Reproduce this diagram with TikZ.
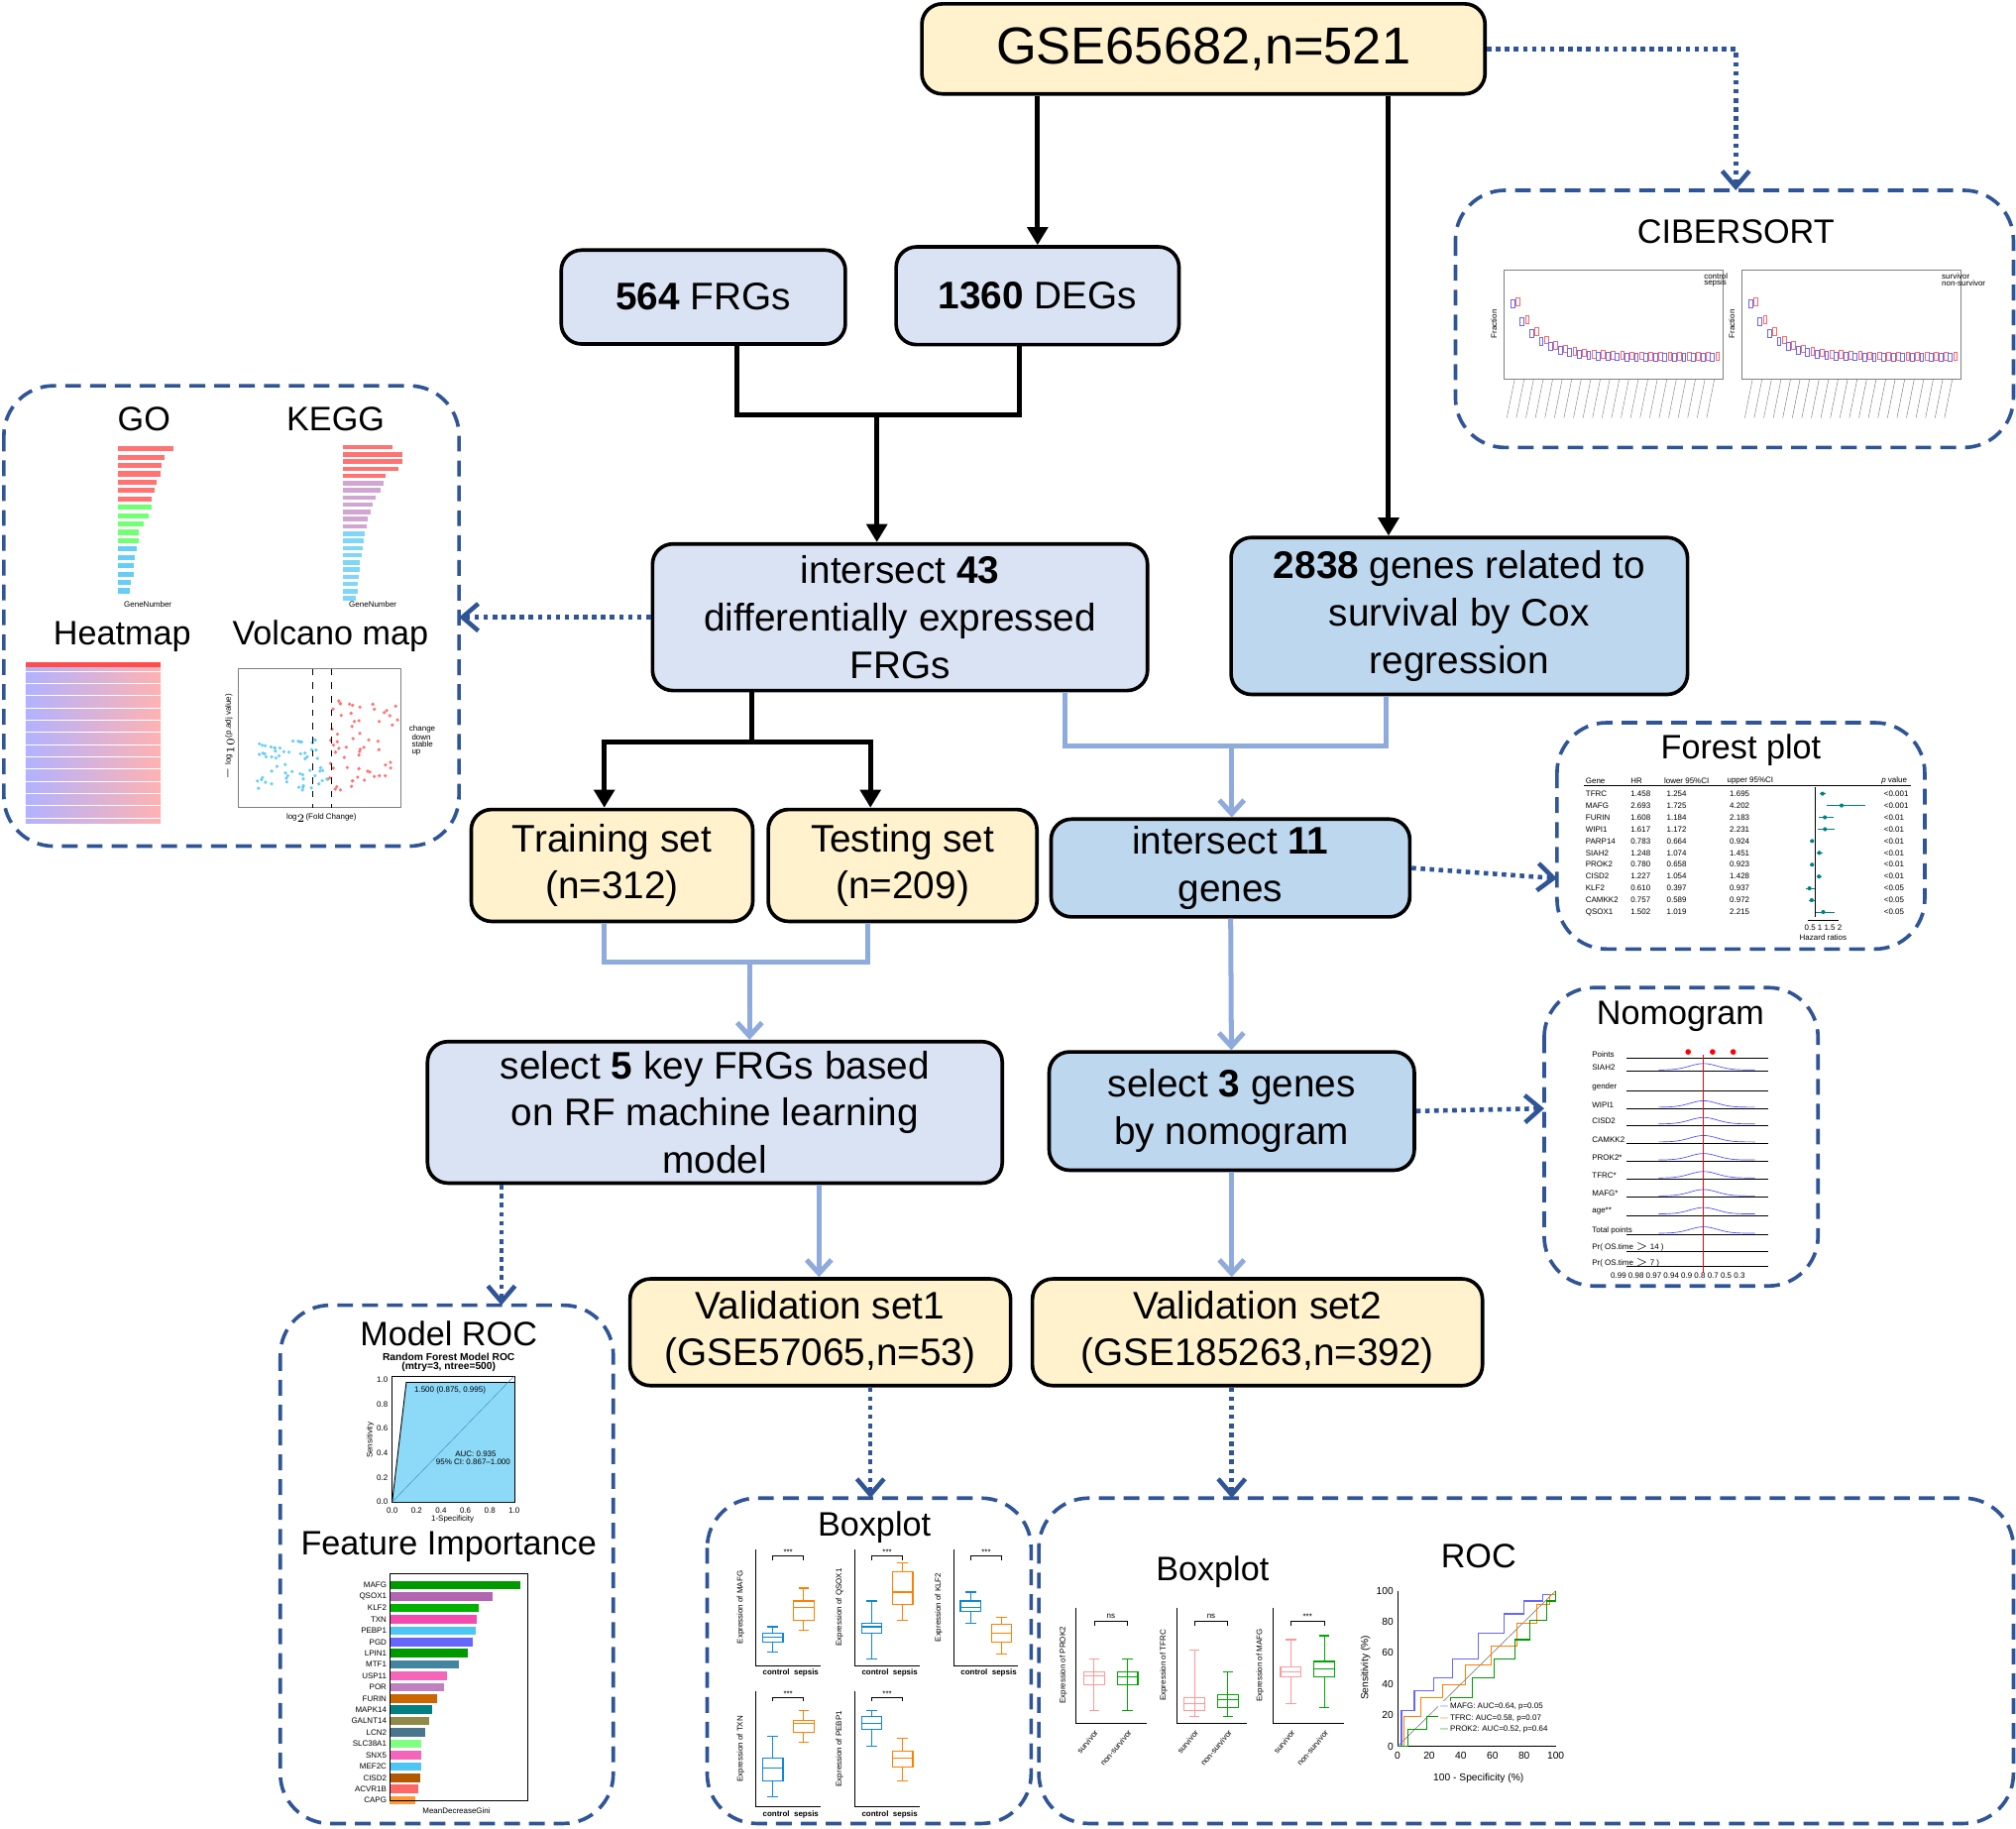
\documentclass[tikz,border=0pt]{standalone}
\usepackage{fontspec}
\setmainfont{Liberation Sans}
\usetikzlibrary{arrows.meta,positioning}
\definecolor{setyellow}{HTML}{FFF2CC}
\definecolor{frgblue}{HTML}{DAE3F3}
\definecolor{coxblue}{HTML}{BDD7EE}
\definecolor{panelblue}{HTML}{2F5597}
\definecolor{lightarrow}{HTML}{8FAADC}
\newcommand{\bx}[7]{% x, ymin, q1, med, q3, ymax, colour
  \draw[#7,line width=0.5pt] (#1,#2) -- (#1,#3) (#1,#5) -- (#1,#6)
    (#1-4,#2) -- (#1+4,#2) (#1-4,#6) -- (#1+4,#6);
  \draw[#7,line width=0.5pt] (#1-8,#3) rectangle (#1+8,#5) (#1-8,#4) -- (#1+8,#4);}
\begin{document}
\begin{tikzpicture}[x=0.02cm,y=-0.02cm,
  box/.style = {draw, line width=1.6pt, rounded corners=9pt, align=center,
    inner sep=2pt, font=\fontsize{17}{21}\selectfont},
  yellowbox/.style = {box, fill=setyellow},
  frgbox/.style = {box, fill=frgblue},
  coxbox/.style = {box, fill=coxblue},
  panel/.style = {draw=panelblue, line width=1.6pt, dash pattern=on 7pt off 4pt,
    rounded corners=22pt},
  dots/.style = {draw=panelblue, line width=2pt, dash pattern=on 2pt off 2pt,
    -{Straight Barb[length=7pt,width=12pt]}},
  flow/.style = {line width=2.2pt, -{Triangle[length=8pt,width=9pt]}},
  blueflow/.style = {draw=lightarrow, line width=2.2pt, -{Straight Barb[length=6pt,width=11pt]}},
  ptitle/.style = {font=\fontsize{15}{18}\selectfont},
  tiny/.style = {font=\fontsize{3.5}{4}\selectfont, inner sep=0pt}
]
\useasboundingbox (0,0) rectangle (1568,1422);

% main boxes
\node[yellowbox, minimum width=438*0.02cm, minimum height=70*0.02cm,
  font=\fontsize{23}{27}\selectfont] (gse) at (936,38) {GSE65682,n=521};
\node[frgbox, minimum width=221*0.02cm, minimum height=73*0.02cm] (frg) at (547,231) {\textbf{564} FRGs};
\node[frgbox, minimum width=220*0.02cm, minimum height=76*0.02cm] (deg) at (807,230) {\textbf{1360} DEGs};
\node[frgbox, minimum width=385*0.02cm, minimum height=114*0.02cm] (int43) at (700,480)
  {intersect \textbf{43}\\differentially expressed\\FRGs};
\node[coxbox, minimum width=355*0.02cm, minimum height=122*0.02cm] (cox) at (1135,479)
  {\textbf{2838} genes related to\\survival by Cox\\regression};
\node[yellowbox, minimum width=219*0.02cm, minimum height=87*0.02cm] (train) at (476,673) {Training set\\(n=312)};
\node[yellowbox, minimum width=209*0.02cm, minimum height=87*0.02cm] (test) at (702,673) {Testing set\\(n=209)};
\node[coxbox, minimum width=279*0.02cm, minimum height=76*0.02cm] (int11) at (957,675) {intersect \textbf{11}\\genes};
\node[frgbox, minimum width=447*0.02cm, minimum height=110*0.02cm] (sel5) at (556,865)
  {select \textbf{5} key FRGs based\\on RF machine learning\\model};
\node[coxbox, minimum width=284*0.02cm, minimum height=92*0.02cm] (sel3) at (958,864) {select \textbf{3} genes\\by nomogram};
\node[yellowbox, minimum width=296*0.02cm, minimum height=83*0.02cm] (val1) at (638,1036) {Validation set1\\(GSE57065,n=53)};
\node[yellowbox, minimum width=350*0.02cm, minimum height=83*0.02cm] (val2) at (978,1036) {Validation set2\\(GSE185263,n=392)};

% panels
\draw[panel] (1132,148) rectangle (1566,348);
\draw[panel] (3,300) rectangle (357,658);
\draw[panel] (1211,562) rectangle (1497,738);
\draw[panel] (1201,768) rectangle (1414,1000);
\draw[panel] (218,1015) rectangle (477,1418);
\draw[panel] (550,1165) rectangle (802,1418);
\draw[panel] (808,1165) rectangle (1566,1418);
\coordinate (ciber) at (1350,148);
\coordinate (gokegg) at (357,480);
\coordinate (forest) at (1211,683);
\coordinate (nomo) at (1201,862);
\coordinate (mroc) at (390,1015);
\coordinate (box1) at (677,1165);
\coordinate (box2) at (958,1165);

% connectors
\draw[flow] (gse.south -| deg) -- (deg);
\draw[flow] (gse.south -| 1080,0) -- (cox.north -| 1080,0);
\draw[dots] (gse.east) -| (ciber);
\draw[line width=2.2pt] (frg.south -| 573,0) |- (682,323) -| (deg.south -| 793,0);
\draw[flow] (682,323) -- (int43.north -| 682,0);
\draw[dots] (int43.west) -- (gokegg);
\draw[line width=2.2pt] (int43.south -| 585,0) -- (585,577);
\draw[flow] (585,577) -| (train.north -| 470,0);
\draw[flow] (585,577) -| (test.north -| 677,0);
\draw[lightarrow, line width=2.2pt] (int43.south -| 828,0) |- (958,580) -| (cox.south -| 1078,0);
\draw[blueflow] (958,580) -- (int11.north -| 958,0);
\draw[dots] (int11.east) -- (forest);
\draw[blueflow] (int11) -- (sel3);
\draw[lightarrow, line width=2.2pt] (train.south -| 470,0) |- (583,748) -| (test.south -| 675,0);
\draw[blueflow] (583,748) -- (sel5.north -| 583,0);
\draw[dots] (sel3.east) -- (nomo);
\draw[dots] (sel5.south -| mroc) -- (mroc);
\draw[blueflow] (sel5.south -| 637,0) -- (val1.north -| 637,0);
\draw[blueflow] (sel3) -- (sel3 |- val2.north);
\draw[dots] (val1.south -| box1) -- (box1);
\draw[dots] (val2.south -| box2) -- (box2);

% CIBERSORT panel
\node[ptitle] (tcib) at (1350,180) {CIBERSORT};
\foreach \ox in {1170,1355} {
  \draw[gray, line width=0.3pt] (\ox,210) rectangle (\ox+170,295);
  \foreach \i in {0,...,21} {
    \pgfmathsetmacro\yy{282-42*exp(-\i/2.5)-4}
    \draw[blue!60, line width=0.4pt] (\ox+5+\i*7.4,\yy-3) rectangle (\ox+8+\i*7.4,\yy+3);
    \draw[red!60, line width=0.4pt] (\ox+9+\i*7.4,\yy-4) rectangle (\ox+12+\i*7.4,\yy+2);
    \draw[gray, line width=0.2pt] (\ox+8+\i*7.4,295) -- (\ox+2+\i*7.4,325);
  }
  \node[tiny, rotate=90] at (\ox-8,252) {Fraction};
}
\node[tiny, anchor=west] at (1325,215) {control};
\node[tiny, anchor=west] at (1325,220) {sepsis};
\node[tiny, anchor=west] at (1510,215) {survivor};
\node[tiny, anchor=west] at (1510,220) {non-survivor};

% GO / KEGG panel
\node[ptitle] (tgo) at (112,326) {GO};
\node[ptitle] (tkegg) at (261,326) {KEGG};
\node[ptitle] (theat) at (95,495) {Heatmap};
\node[ptitle] (tvol) at (257,495) {Volcano map};
\foreach \i/\l in {0/135,1/128,2/126,3/125,4/122,5/120,6/118,7/118,8/116,9/112,10/108,11/108,12/106,13/105,14/104,15/104,16/102,17/101} {
  \pgfmathsetmacro\cc{\i<7 ? "red!55" : (\i<12 ? "green!55" : "cyan!60")}
  \fill[\cc] (92,347+\i*6.5) rectangle (\l,351+\i*6.5);
}
\foreach \i/\l in {0/305,1/313,2/313,3/310,4/300,5/298,6/296,7/292,8/290,9/288,10/286,11/285,12/284,13/283,14/282,15/281,16/280,17/280,18/279,19/278,20/278,21/277} {
  \pgfmathsetmacro\cc{\i<5 ? "red!55" : (\i<12 ? "violet!35" : "cyan!50")}
  \fill[\cc] (267,346+\i*5.6) rectangle (\l,349.5+\i*5.6);
}
\node[tiny] at (115,470) {GeneNumber};
\node[tiny] at (290,470) {GeneNumber};
\shade[left color=blue!30, right color=red!30] (20,517) rectangle (125,640);
\fill[red!70] (20,515) rectangle (125,519);
\foreach \i in {0,...,12} \draw[white, line width=0.3pt] (20,522+\i*9.5) -- (125,522+\i*9.5);
\draw[gray, line width=0.3pt] (185,520) rectangle (312,628);
\pgfmathsetseed{7}
\foreach \i in {0,...,60} {
  \pgfmathsetmacro\px{200+rnd*55}
  \pgfmathsetmacro\py{615-rnd*40}
  \fill[cyan!60] (\px,\py) circle (1.4);
  \pgfmathsetmacro\qx{255+rnd*55}
  \pgfmathsetmacro\qy{615-rnd*70}
  \fill[red!55] (\qx,\qy) circle (1.4);
}
\draw[dashed, line width=0.3pt] (243,520) -- (243,628) (258,520) -- (258,628);
\node[tiny, rotate=90] at (178,573) {$-\log_{10}$(p.adj value)};
\node[tiny] at (250,636) {$\log_2$(Fold Change)};
\node[tiny, anchor=west] at (318,567) {change};
\node[tiny, anchor=west] at (320,573) {down};
\node[tiny, anchor=west] at (320,579) {stable};
\node[tiny, anchor=west] at (320,585) {up};

% forest plot panel
\node[ptitle] (tforest) at (1354,583) {Forest plot};
\node[tiny, anchor=west] at (1233,607) {Gene};
\node[tiny, anchor=west] at (1268,607) {HR};
\node[tiny, anchor=west] at (1294,607) {lower 95\%CI};
\node[tiny, anchor=west] at (1343,607) {upper 95\%CI};
\node[tiny, anchor=west] at (1463,607) {\textit{p} value};
\foreach \g/\hr/\lo/\up/\p [count=\k] in {TFRC/1.458/1.254/1.695/<0.001, MAFG/2.693/1.725/4.202/<0.001,
  FURIN/1.608/1.184/2.183/<0.01, WIPI1/1.617/1.172/2.231/<0.01, PARP14/0.783/0.664/0.924/<0.01,
  SIAH2/1.248/1.074/1.451/<0.01, PROK2/0.780/0.658/0.923/<0.01, CISD2/1.227/1.054/1.428/<0.01,
  KLF2/0.610/0.397/0.937/<0.05, CAMKK2/0.757/0.589/0.972/<0.05, QSOX1/1.502/1.019/2.215/<0.05} {
  \pgfmathsetmacro\yy{608+\k*9.2}
  \node[tiny, anchor=west] at (1233,\yy) {\g};
  \node[tiny, anchor=west] at (1268,\yy) {\hr};
  \node[tiny, anchor=west] at (1296,\yy) {\lo};
  \node[tiny, anchor=west] at (1345,\yy) {\up};
  \node[tiny, anchor=west] at (1465,\yy) {\p};
  \draw[teal, line width=0.3pt] ({1400+\lo*12},\yy) -- ({1400+\up*12},\yy);
  \fill[teal] ({1400+\hr*12},\yy) circle (1.6);
}
\draw[line width=0.3pt] (1232,611) -- (1486,611);
\draw[line width=0.3pt] (1412,612) -- (1412,713) (1406,716) -- (1430,716);
\node[tiny] at (1418,721) {0.5 1 1.5 2};
\node[tiny] at (1418,729) {Hazard ratios};

% nomogram panel
\node[ptitle] (tnomo) at (1307,790) {Nomogram};
\foreach \l/\yy in {Points/820, SIAH2/830, gender/845, WIPI1/859, CISD2/872, CAMKK2/886, PROK2*/900,
  TFRC*/914, MAFG*/928, age**/942, Total points/957, Pr( OS.time $>$ 14 )/970, Pr( OS.time $>$ 7 )/982} {
  \node[tiny, anchor=west] at (1238,\yy) {\l};
  \draw[line width=0.3pt] (1265,\yy+3) -- (1375,\yy+3);
}
\foreach \yy in {830,859,872,886,900,914,928,942,957} {
  \draw[blue!70, line width=0.3pt] plot[domain=1290:1365, samples=25] (\x,{\yy+2-5*exp(-((\x-1325)/15)^2)});
}
\draw[red, line width=0.5pt] (1325,820) -- (1325,990);
\fill[red] (1313,818) circle (2.2) (1332,818) circle (2.2) (1348,818) circle (2.2);
\node[tiny] at (1305,992) {0.99 0.98 0.97 0.94 0.9 0.8 0.7 0.5 0.3};

% model ROC panel
\node[ptitle] (tmodroc) at (349,1037) {Model ROC};
\node[tiny, font=\fontsize{4.5}{5}\bfseries] at (349,1055) {Random Forest Model ROC};
\node[tiny, font=\fontsize{4.5}{5}\bfseries] at (349,1063) {(mtry=3, ntree=500)};
\draw[line width=0.3pt] (305,1070) rectangle (400,1168);
\fill[cyan!45] (305,1168) -- (316,1075) -- (400,1075) -- (400,1168) -- cycle;
\draw[line width=0.4pt] (305,1168) -- (316,1075) -- (400,1075);
\draw[cyan!70!black, line width=0.2pt] (305,1168) -- (400,1070);
\node[tiny] at (350,1081) {1.500 (0.875, 0.995)};
\node[tiny] at (370,1131) {AUC: 0.935};
\node[tiny] at (368,1137) {95\% CI: 0.867--1.000};
\node[tiny, rotate=90] at (288,1120) {Sensitivity};
\foreach \v [count=\k from 0] in {0.0,0.2,0.4,0.6,0.8,1.0} {
  \node[tiny, anchor=east] at (302,{1168-\k*19}) {\v};
  \node[tiny] at ({305+\k*19},1175) {\v};
}
\node[tiny] at (352,1181) {1-Specificity};
\node[ptitle] (tfeat) at (349,1203) {Feature Importance};
\foreach \g/\l/\cc [count=\k] in {MAFG/405/green!60!black, QSOX1/383/violet!60, KLF2/372/green!70!black,
  TXN/371/magenta!70, PEBP1/370/cyan!70, PGD/368/blue!60, LPIN1/364/green!60!black, MTF1/357/cyan!60!black,
  USP11/348/magenta!60, POR/345/violet!50, FURIN/340/orange!80!black, MAPK14/336/teal,
  GALNT14/334/yellow!50!black, LCN2/331/cyan!50!black, SLC38A1/328/green!50, SNX5/328/magenta!60,
  MEF2C/328/cyan!70, CISD2/327/orange!70!black, ACVR1B/325/red!60, CAPG/323/orange!80} {
  \pgfmathsetmacro\yy{1224+\k*8.8}
  \fill[\cc] (303,\yy-3.3) rectangle (\l,\yy+3.3);
  \node[tiny, anchor=east] at (301,\yy) {\g};
}
\draw[line width=0.3pt] (303,1224) rectangle (410,1400);
\node[tiny] at (355,1408) {MeanDecreaseGini};

% boxplot panel 1
\node[ptitle] (tbox1) at (680,1188) {Boxplot};
\foreach \ox/\a/\b/\yl [count=\k] in {588/1.5/-1/Expression of MAFG, 665/1.4/-1/Expression of QSOX1,
  742/0/1/Expression of KLF2, 588/5.5/-1/Expression of TXN, 665/4.5/1/Expression of PEBP1} {
  \pgfmathsetmacro\oy{\k<4 ? 1205 : 1315}
  \draw[line width=0.3pt] (\ox,\oy) -- (\ox,\oy+90) -- (\ox+50,\oy+90);
  \node[tiny, rotate=90] at (\ox-12,\oy+45) {\yl};
  \draw[line width=0.3pt] (\ox+13,\oy+8) -- (\ox+13,\oy+5) -- (\ox+37,\oy+5) -- (\ox+37,\oy+8);
  \node[tiny] at (\ox+25,\oy+2) {***};
  \node[tiny, font=\fontsize{3.5}{4}\bfseries] at (\ox+27,\oy+96) {control \ sepsis};
}
\bx{601}{1265}{1270}{1273}{1277}{1285}{cyan!70!blue}
\bx{625}{1235}{1245}{1250}{1260}{1268}{orange}
\bx{678}{1245}{1262}{1265}{1270}{1290}{cyan!70!blue}
\bx{702}{1215}{1222}{1238}{1248}{1260}{orange}
\bx{755}{1238}{1245}{1250}{1253}{1262}{cyan!70!blue}
\bx{779}{1258}{1263}{1270}{1277}{1286}{orange}
\bx{601}{1350}{1367}{1375}{1385}{1397}{cyan!70!blue}
\bx{625}{1330}{1338}{1340}{1347}{1355}{orange}
\bx{678}{1330}{1335}{1340}{1345}{1358}{cyan!70!blue}
\bx{702}{1352}{1362}{1367}{1374}{1385}{orange}

% boxplot / ROC panel 2
\node[ptitle] (tbox2) at (943,1222) {Boxplot};
\node[ptitle] (troc) at (1150,1210) {ROC};
\foreach \ox/\yl in {837/Expression of PROK2, 915/Expression of TFRC, 990/Expression of MAFG} {
  \draw[line width=0.3pt] (\ox,1250) -- (\ox,1340) -- (\ox+55,1340);
  \node[tiny, rotate=90] at (\ox-10,1295) {\yl};
  \draw[line width=0.3pt] (\ox+14,1264) -- (\ox+14,1261) -- (\ox+40,1261) -- (\ox+40,1264);
  \node[tiny, rotate=50, anchor=east] at (\ox+16,1346) {survivor};
  \node[tiny, rotate=50, anchor=east] at (\ox+42,1346) {non-survivor};
}
\node[tiny] at (864,1257) {ns};
\node[tiny] at (942,1257) {ns};
\node[tiny] at (1017,1257) {***};
\bx{851}{1330}{1300}{1303}{1310}{1290}{red!40}
\bx{877}{1330}{1300}{1304}{1310}{1290}{green!65!black}
\bx{929}{1335}{1320}{1325}{1330}{1283}{red!40}
\bx{955}{1335}{1318}{1322}{1328}{1300}{green!65!black}
\bx{1004}{1325}{1304}{1300}{1296}{1275}{red!40}
\bx{1030}{1328}{1304}{1298}{1292}{1272}{green!65!black}
\draw[line width=0.4pt] (1087,1237) -- (1087,1358) -- (1210,1358);
\draw[gray, line width=0.3pt] (1087,1358) -- (1210,1237);
\draw[blue!60, line width=0.5pt] plot[const plot] coordinates {(1087,1358) (1090,1330) (1100,1315) (1115,1305) (1130,1290) (1150,1270) (1170,1255) (1185,1245) (1200,1240) (1210,1237)};
\draw[orange, line width=0.5pt] plot[const plot] coordinates {(1087,1358) (1092,1335) (1105,1320) (1122,1310) (1140,1295) (1160,1280) (1180,1262) (1195,1248) (1205,1240) (1210,1237)};
\draw[green!60!black, line width=0.5pt] plot[const plot] coordinates {(1087,1358) (1095,1345) (1110,1335) (1128,1320) (1145,1305) (1162,1290) (1178,1275) (1190,1260) (1203,1245) (1210,1237)};
\node[tiny, font=\fontsize{4.5}{5}\selectfont, rotate=90] at (1062,1297) {Sensitivity (\%)};
\foreach \v [count=\k from 0] in {0,20,40,60,80,100} {
  \node[tiny, font=\fontsize{4.5}{5}\selectfont, anchor=east] at (1084,{1358-\k*24.2}) {\v};
  \node[tiny, font=\fontsize{4.5}{5}\selectfont] at ({1087+\k*24.6},1365) {\v};
}
\node[tiny, font=\fontsize{4.5}{5}\selectfont] at (1150,1383) {100 - Specificity (\%)};
\node[tiny, align=left, anchor=west, fill=white, inner sep=1pt] at (1118,1336) {\textcolor{blue!60}{---} MAFG: AUC=0.64, p=0.05\\[1pt]
  \textcolor{orange}{---} TFRC: AUC=0.58, p=0.07\\[1pt] \textcolor{green!60!black}{---} PROK2: AUC=0.52, p=0.64};
\end{tikzpicture}
\end{document}
